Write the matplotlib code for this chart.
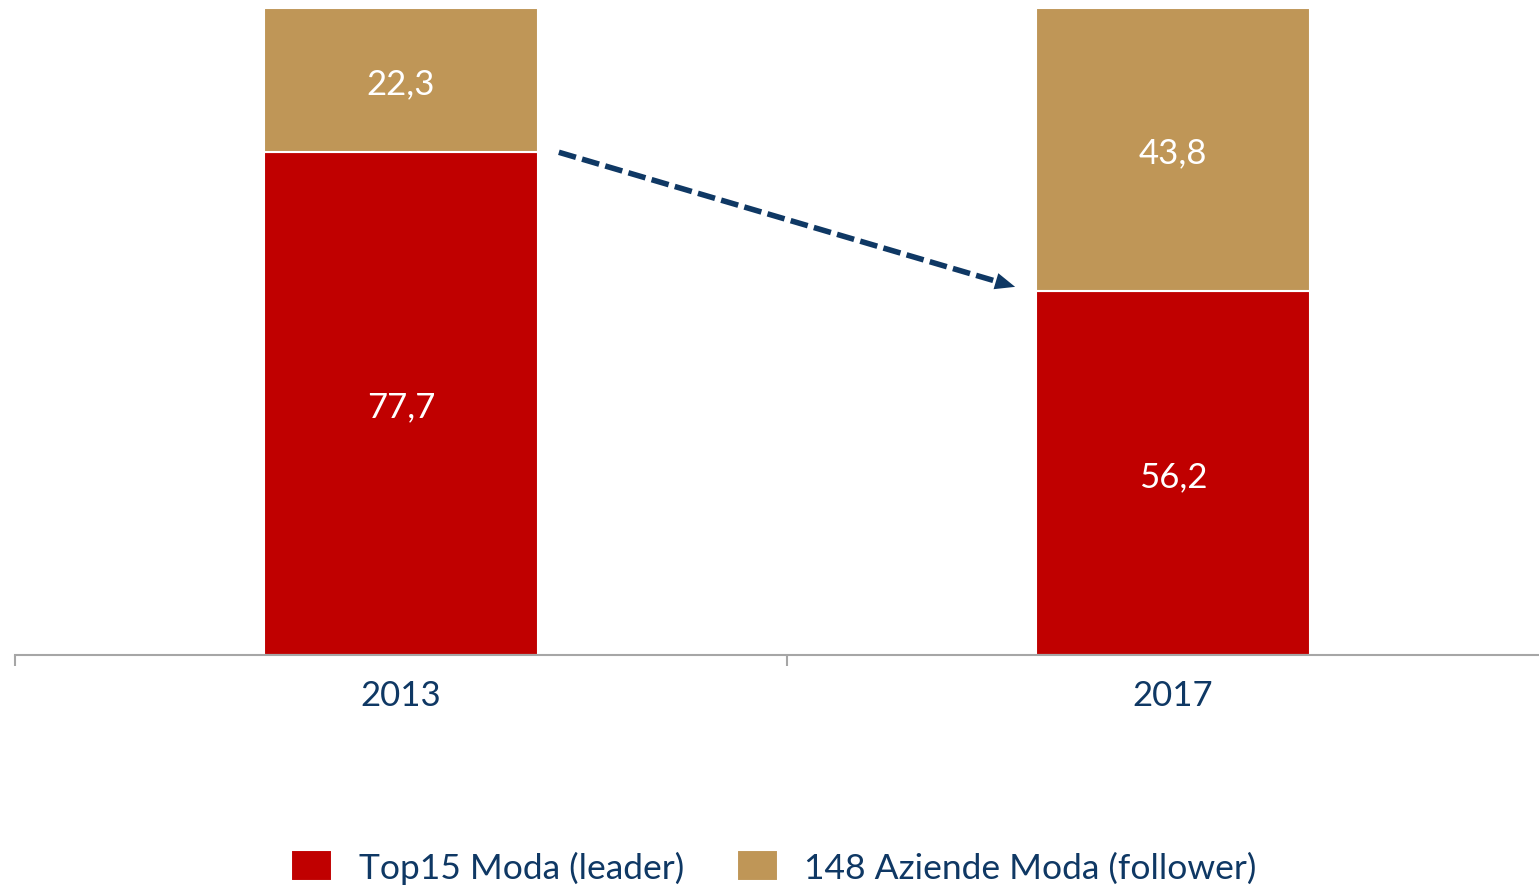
import matplotlib
matplotlib.use("Agg")
import matplotlib.pyplot as plt
import numpy as np

years = ["2013", "2017"]
leader = [77.7, 56.2]
follower = [22.3, 43.8]
series_names = ["Top15 Moda (leader)", "148 Aziende Moda (follower)"]

RED = "#C00000"
TAN = "#BF9657"
NAVY = "#0F3864"
FONT = ["Lato", "DejaVu Sans"]
plt.rcParams["font.family"] = FONT

W, H = 1539, 887
fig = plt.figure(figsize=(W / 100, H / 100), dpi=100)
ax = fig.add_axes([15 / W, (H - 656) / H, 1544 / W, 647 / H])

x = np.arange(len(years))
bw = 0.355
b1 = ax.bar(x, leader, width=bw, color=RED, edgecolor="white", linewidth=1.5, label=series_names[0])
b2 = ax.bar(x, follower, width=bw, bottom=leader, color=TAN, edgecolor="white", linewidth=1.5, label=series_names[1])

fmt = lambda v: f"{v:.1f}".replace(".", ",")
for xi, l, f in zip(x, leader, follower):
    ax.text(xi, l / 2, fmt(l), ha="center", va="center_baseline", color="white", fontsize=25)
    ax.text(xi, l + f / 2, fmt(f), ha="center", va="center_baseline", color="white", fontsize=25)

ax.set_xlim(-0.5, 1.5)
ax.set_ylim(0, 100)
for s in ["top", "right", "left"]:
    ax.spines[s].set_visible(False)
ax.spines["bottom"].set_color("#A6A6A6")
ax.spines["bottom"].set_linewidth(1.5)
ax.set_yticks([])
ax.set_xticks([-0.5, 0.5, 1.5])
ax.set_xticklabels([])
ax.tick_params(axis="x", which="major", length=8, width=1.5, color="#A6A6A6", direction="out")
ax.set_xticks(x, minor=True)
ax.set_xticklabels(years, minor=True)
ax.tick_params(axis="x", which="minor", length=0, pad=17, labelsize=25, labelcolor=NAVY)

# dashed trend arrow from top of 2013 leader bar to top of 2017 leader bar
start = np.array([x[0] + bw / 2 + 0.027, leader[0]])
end = np.array([x[1] - bw / 2 - 0.027, leader[1] + 0.7])
line_end = start + (end - start) * 0.965
ax.plot([start[0], line_end[0]], [start[1], line_end[1]], color=NAVY, lw=4.0,
        linestyle=(0, (3.2, 1.15)), dash_capstyle="butt")
ax.annotate("", xy=end, xytext=line_end,
            arrowprops=dict(arrowstyle="-|>,head_length=0.96,head_width=0.4", color=NAVY,
                            lw=0, shrinkA=0, shrinkB=0, mutation_scale=15))

leg = fig.legend(handles=[b1, b2], labels=series_names, loc="center", ncol=2,
                 bbox_to_anchor=(0.503, 19 / H), frameon=False, fontsize=25.5,
                 handlelength=1.15, handleheight=0.95, handletextpad=0.75,
                 columnspacing=1.5, borderpad=0)
for t in leg.get_texts():
    t.set_color(NAVY)

fig.savefig("out.png", dpi=100)
